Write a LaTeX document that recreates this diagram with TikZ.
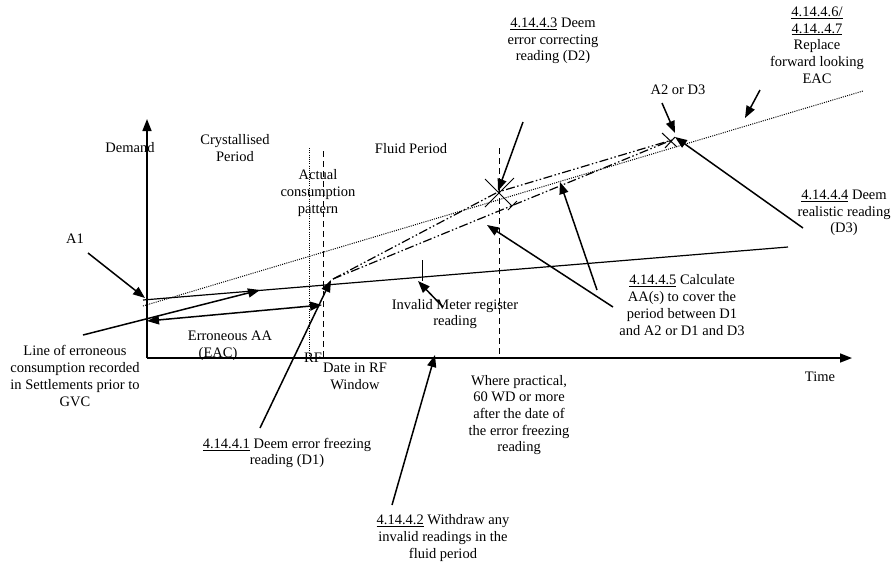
\documentclass[tikz,border=0pt]{standalone}
\usepackage{fontspec}
\setmainfont{Liberation Serif}
\usetikzlibrary{arrows.meta}
\begin{document}
\begin{tikzpicture}[x=1pt,y=-1pt,
  lbl/.style={font=\fontsize{14.5}{16.7}\selectfont, align=center, inner sep=0pt},
  axis/.style={line width=1.6pt, -{Triangle[length=12pt,width=9pt]}},
  ptr/.style={line width=1.5pt, -{Triangle[length=12pt,width=9pt]}},
  both/.style={line width=1.5pt, {Triangle[length=12pt,width=9pt]}-{Triangle[length=12pt,width=9pt]}},
  solidln/.style={line width=1.2pt},
  dotln/.style={line width=1pt, dash pattern=on 1pt off 1.2pt},
  dashln/.style={line width=1pt, dash pattern=on 6pt off 4pt},
  ddot/.style={line width=1.2pt, dash pattern=on 9pt off 2.5pt on 1.5pt off 2.5pt on 1.5pt off 2.5pt},
  markln/.style={line width=1pt}]
\useasboundingbox (0,0) rectangle (894,566);

% key points
\coordinate (O) at (147,358);
\coordinate (ytop) at (147,119);
\coordinate (xend) at (852,358);
\coordinate (s1a) at (143,300);
\coordinate (s1b) at (788,247);
\coordinate (dta) at (143,306);
\coordinate (dtb) at (863,91);
\coordinate (eaL) at (147,321);
\coordinate (eaR) at (322,305);
\coordinate (D1) at (333,279);
\coordinate (D2) at (498,192);
\coordinate (A2) at (672,140);
\coordinate (rfT) at (309,148);
\coordinate (rfB) at (309,358);
\coordinate (dwT) at (323,151);
\coordinate (dwB) at (323,358);
\coordinate (fpT) at (499,148);
\coordinate (fpB) at (499,358);

% axes
\draw[axis] (O) -- (ytop);
\draw[axis] (O) -- (xend);

% vertical reference lines
\draw[dotln] (rfT) -- (rfB);
\draw[dashln] (dwT) -- (dwB);
\draw[dashln] (fpT) -- (fpB);

% consumption lines
\draw[solidln] (s1a) -- (s1b);
\draw[dotln] (dta) -- (dtb);
\draw[both] (eaL) -- (eaR);
\draw[ddot] (D1) -- (D2) -- (A2);
\draw[ddot] (D1) -- (A2);

% markers
\coordinate (x1a) at (485,179); \coordinate (x1b) at (512,206);
\coordinate (x2a) at (485,207); \coordinate (x2b) at (514,178);
\coordinate (t1a) at (508,210); \coordinate (t1b) at (517,201);
\draw[markln] (x1a) -- (x1b);
\draw[markln] (x2a) -- (x2b);
\draw[markln] (t1a) -- (t1b);
\coordinate (x3a) at (662,133); \coordinate (x3b) at (677,147);
\coordinate (x4a) at (665,148); \coordinate (x4b) at (675,137);
\draw[markln] (x3a) -- (x3b);
\draw[markln] (x4a) -- (x4b);
\coordinate (ivT) at (422,260); \coordinate (ivB) at (422,281);
\draw[markln] (ivT) -- (ivB);

% labels
\node[lbl] (dem) at (130,148) {Demand};
\node[lbl] (cry) at (235,148) {Crystallised\\Period};
\node[lbl] (act) at (318,193) {Actual\\consumption\\pattern};
\node[lbl] (flu) at (411,149) {Fluid Period};
\node[lbl] (l443) at (553,41) {\underline{4.14.4.3} Deem\\error correcting\\reading (D2)};
\node[lbl] (l446) at (817,45) {\underline{4.14.4.6/}\\\underline{4.14..4.7}\\Replace\\forward looking\\EAC};
\node[lbl] (a2d3) at (678,90) {A2 or D3};
\node[lbl] (l444) at (844,213) {\underline{4.14.4.4} Deem\\realistic reading\\(D3)};
\node[lbl] (a1) at (75,239) {A1};
\node[lbl] (eaa) at (230,346) {Erroneous AA\\(EAC)\hspace*{24pt}};
\node[lbl] (loe) at (75,376) {Line of erroneous\\consumption recorded\\in Settlements prior to\\GVC};
\node[lbl] (rf) at (313,358) {RF};
\node[lbl] (dri) at (355,376) {Date in RF\\Window};
\node[lbl] (inv) at (455,314) {Invalid Meter register\\reading};
\node[lbl] (l445) at (682,305) {\underline{4.14.4.5} Calculate\\AA(s) to cover the\\period between D1\\and A2 or D1 and D3};
\node[lbl] (time) at (820,377) {Time};
\node[lbl] (wp) at (519,415) {Where practical,\\60 WD or more\\after the date of\\the error freezing\\reading};
\node[lbl] (l441) at (287,453) {\underline{4.14.4.1} Deem error freezing\\reading (D1)};
\node[lbl] (l442) at (443,538) {\underline{4.14.4.2} Withdraw any\\invalid readings in the\\fluid period};

% pointer arrows
\coordinate (pA1s) at (88,253);   \coordinate (pA1t) at (145,298);
\coordinate (pLs) at (83,335);    \coordinate (pLt) at (260,290);
\coordinate (p1s) at (260,428);   \coordinate (p1t) at (331,280);
\coordinate (p2s) at (392,505);   \coordinate (p2t) at (435,355);
\coordinate (p3s) at (523,122);   \coordinate (p3t) at (498,191);
\coordinate (pAs) at (662,103);   \coordinate (pAt) at (675,133);
\coordinate (p6s) at (760,90);    \coordinate (p6t) at (745,118);
\coordinate (p4s) at (803,228);   \coordinate (p4t) at (675,137);
\coordinate (p5as) at (597,290);  \coordinate (p5at) at (560,182);
\coordinate (p5bs) at (613,307);  \coordinate (p5bt) at (487,225);
\coordinate (pIs) at (443,307);   \coordinate (pIt) at (418,281);

\draw[ptr] (pA1s) -- (pA1t);
\draw[ptr] (pLs) -- (pLt);
\draw[ptr] (p1s) -- (p1t);
\draw[ptr] (p2s) -- (p2t);
\draw[ptr] (p3s) -- (p3t);
\draw[ptr] (pAs) -- (pAt);
\draw[ptr] (p6s) -- (p6t);
\draw[ptr] (p4s) -- (p4t);
\draw[ptr] (p5as) -- (p5at);
\draw[ptr] (p5bs) -- (p5bt);
\draw[ptr] (pIs) -- (pIt);
\end{tikzpicture}
\end{document}
